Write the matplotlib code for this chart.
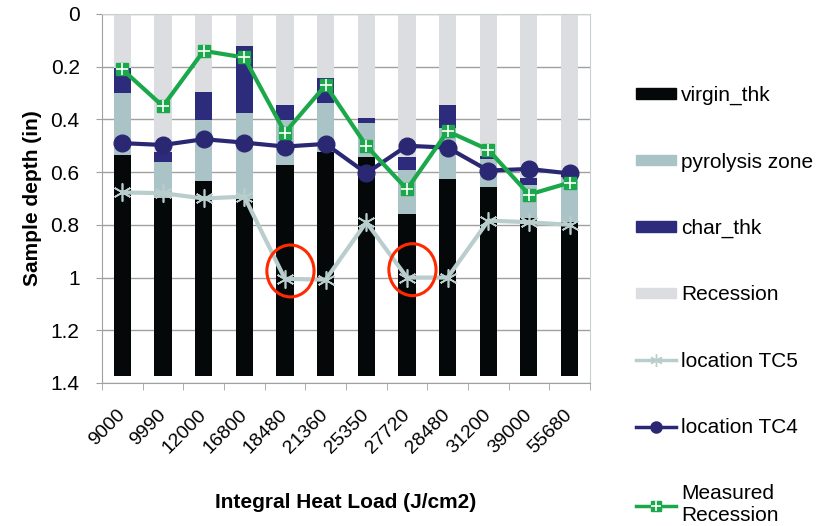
# Stacked sample-depth chart with thermocouple / recession lines
import numpy as np
import matplotlib.pyplot as plt
from matplotlib.patches import Patch, Ellipse
from matplotlib.lines import Line2D
from matplotlib.legend_handler import HandlerTuple

plt.rcParams['font.family'] = ['Liberation Sans', 'DejaVu Sans']

# categories (integral heat load, J/cm2)
heat_load = ['9000', '9990', '12000', '16800', '18480', '21360',
             '25350', '27720', '28480', '31200', '39000', '55680']

# layer thicknesses (in), stacked from the heated surface down
recession = [0.206, 0.525, 0.295, 0.121, 0.345, 0.244, 0.396, 0.541, 0.344, 0.537, 0.623, 0.600]
char_thk = [0.092, 0.038, 0.107, 0.253, 0.057, 0.092, 0.019, 0.051, 0.088, 0.015, 0.026, 0.020]
pyrolysis = [0.237, 0.137, 0.232, 0.329, 0.171, 0.186, 0.129, 0.168, 0.194, 0.103, 0.126, 0.170]
virgin_thk = [0.840, 0.675, 0.741, 0.672, 0.802, 0.853, 0.831, 0.615, 0.749, 0.720, 0.600, 0.585]

# line series (depth, in)
loc_tc5 = [0.677, 0.680, 0.700, 0.693, 1.005, 1.008, 0.790, 1.000, 1.000, 0.784, 0.790, 0.800]
loc_tc4 = [0.490, 0.497, 0.475, 0.488, 0.503, 0.493, 0.604, 0.500, 0.507, 0.594, 0.588, 0.605]
measured = [0.210, 0.350, 0.140, 0.165, 0.450, 0.270, 0.500, 0.665, 0.445, 0.515, 0.685, 0.640]

# points to highlight with red circles
circled = [4, 7]

C_VIRGIN = '#050808'
C_PYRO = '#a9c3c7'
C_CHAR = '#2d2b7c'
C_REC = '#dcdde0'
C_TC5 = '#b9cdcd'
C_TC4 = '#2a2873'
C_MEAS = '#1aa84a'

FS = 15

x = np.arange(len(heat_load))
rec = np.array(recession)
ch = np.array(char_thk)
py = np.array(pyrolysis)
vi = np.array(virgin_thk)

fig = plt.figure(figsize=(8.25, 5.26), dpi=100)
ax = fig.add_axes([0.1236, 0.2719, 0.5915, 0.7015])

w = 0.42
ax.bar(x, rec, w, bottom=0, color=C_REC, zorder=2)
ax.bar(x, ch, w, bottom=rec, color=C_CHAR, zorder=2)
ax.bar(x, py, w, bottom=rec + ch, color=C_PYRO, zorder=2)
ax.bar(x, vi, w, bottom=rec + ch + py, color=C_VIRGIN, zorder=2)

ax.plot(x, loc_tc5, color=C_TC5, lw=3, marker=(6, 2, 0), ms=13, mew=1.2, zorder=3)
ax.plot(x, loc_tc4, color=C_TC4, lw=3, marker='o', ms=12, zorder=4)
ax.plot(x, measured, color=C_MEAS, lw=3, marker='s', ms=9, zorder=5)
ax.plot(x, measured, ls='none', marker='+', ms=9, mew=1.2, color='white', zorder=6)

for i in circled:
    ax.add_patch(Ellipse((i + 0.135, loc_tc5[i] - 0.03), 1.16, 0.197,
                         fill=False, ec='#ff2a00', lw=2.2, zorder=7))

ax.set_ylim(1.4, 0)
ax.set_yticks(np.arange(0, 1.41, 0.2))
ax.set_yticklabels(['0', '0.2', '0.4', '0.6', '0.8', '1', '1.2', '1.4'])
ax.set_xlim(-0.5, len(heat_load) - 0.5)
ax.set_xticks(x)
ax.set_xticklabels(heat_load, rotation=45, ha='right', va='center',
                   rotation_mode='anchor')
ax.set_xticks(np.arange(-0.5, len(heat_load)), minor=True)
ax.tick_params(axis='x', which='major', length=0, pad=21, labelsize=14)
ax.tick_params(axis='x', which='minor', length=5, color='#a0a0a0')
ax.tick_params(axis='y', length=4, color='#a0a0a0', labelsize=FS, pad=12)
ax.grid(axis='y', color='#a0a0a0', lw=1, zorder=0)
ax.set_axisbelow(True)
for s in ax.spines.values():
    s.set_color('#c8d0d0')
ax.spines['left'].set_color('#a0a0a0')
ax.spines['bottom'].set_color('#a0a0a0')

ax.set_ylabel('Sample depth (in)', fontsize=FS, fontweight='bold', labelpad=6)
ax.set_xlabel('Integral Heat Load (J/cm2)', fontsize=FS, fontweight='bold', labelpad=26)

handles = [
    Patch(color=C_VIRGIN),
    Patch(color=C_PYRO),
    Patch(color=C_CHAR),
    Patch(color=C_REC),
    Line2D([], [], color=C_TC5, lw=2.5, marker=(6, 2, 0), ms=9),
    Line2D([], [], color=C_TC4, lw=2.5, marker='o', ms=8),
    (Line2D([], [], color=C_MEAS, lw=2.5, marker='s', ms=7),
     Line2D([], [], ls='none', marker='+', ms=7, mew=1.2, color='white')),
]
labels = ['virgin_thk', 'pyrolysis zone', 'char_thk', 'Recession',
          'location TC5', 'location TC4', 'Measured\nRecession']
fig.legend(handles, labels, loc='upper left', bbox_to_anchor=(0.748, 0.872),
           frameon=False, fontsize=FS, labelspacing=2.27, handlelength=1.92,
           handleheight=0.4, handletextpad=0.25,
           handler_map={tuple: HandlerTuple(ndivide=1)})

fig.savefig('out.png', dpi=100)
